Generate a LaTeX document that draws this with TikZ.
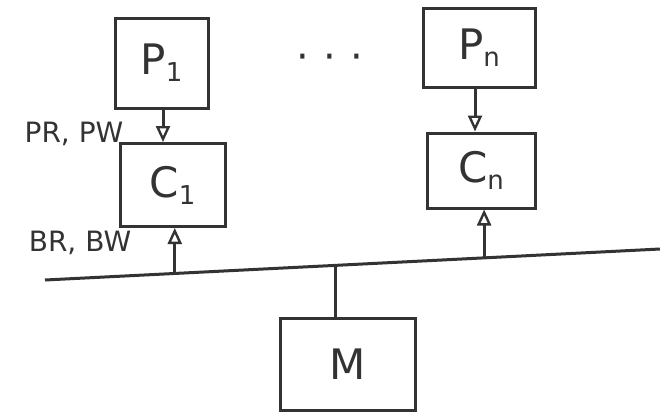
\documentclass[tikz,border=0pt]{standalone}
\usepackage{fontspec}
\setmainfont{DejaVu Sans}
\usetikzlibrary{arrows.meta,calc}
\newcommand{\idx}[1]{\raisebox{-0.3ex}{\fontsize{26}{26}\selectfont #1}}
\begin{document}
\begin{tikzpicture}[x=1pt,y=-1pt,
  ink/.style={draw=black!80, line width=3pt},
  unit/.style={ink, rectangle, inner sep=0pt, font=\fontsize{42}{44}\selectfont\color{black!80}},
  flow/.style={ink, -{Triangle[open,length=16pt,width=14pt,line width=2.4pt]}},
  tag/.style={font=\fontsize{28}{30}\selectfont\color{black!80}}]
  \useasboundingbox (0,0) rectangle (660,416);
  % processors
  \node[unit, minimum width=93pt, minimum height=90pt] (P1) at (161.5,63) {P\idx{1}};
  \node[unit, minimum width=112pt, minimum height=79pt] (Pn) at (479,47.5) {P\idx{n}};
  % caches
  \node[unit, minimum width=105pt, minimum height=83pt] (C1) at (172.5,185) {C\idx{1}};
  \node[unit, minimum width=108pt, minimum height=75pt] (Cn) at (481,170.5) {C\idx{n}};
  % memory
  \node[unit, minimum width=135pt, minimum height=92pt] (M) at (347.5,364) {M};
  % ellipsis between processors
  \node[font=\fontsize{40}{40}\selectfont\color{black!80}] (dots) at (330,62) {·\hspace{14pt}·\hspace{14pt}·};
  % shared bus
  \coordinate (busL) at (45,280);
  \coordinate (busR) at (660,249);
  \draw[ink] (busL) -- (busR);
  \coordinate (tap1) at ($(busL)!0.211!(busR)$);
  \coordinate (tapn) at ($(busL)!0.714!(busR)$);
  \coordinate (tapm) at ($(busL)!0.472!(busR)$);
  % processor to cache requests
  \draw[flow] (P1.south -| 163,0) -- (C1.north -| 163,0);
  \draw[flow] (Pn.south -| 475,0) -- (Cn.north -| 475,0);
  % bus to cache snooping
  \draw[flow] (tap1) -- (tap1 |- C1.south);
  \draw[flow] (tapn) -- (tapn |- Cn.south);
  % memory on the bus
  \draw[ink] (tapm) -- (tapm |- M.north);
  % labels
  \node[tag] (prpw) at (74,134) {PR, PW};
  \node[tag] (brbw) at (80,243) {BR, BW};
\end{tikzpicture}
\end{document}
